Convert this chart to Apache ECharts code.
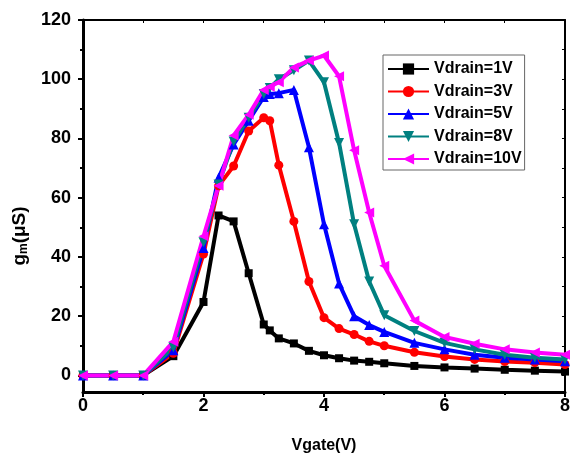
<!DOCTYPE html>
<html>
<head>
<meta charset="utf-8">
<script src="https://cdn.jsdelivr.net/npm/echarts@6/dist/echarts.min.js"></script>
<style>
html,body{margin:0;padding:0;background:#fff;}
#c{width:573px;height:459px;}
</style>
</head>
<body>
<div id="c"></div>
<script>
const vgate = [0, 0.5, 1, 1.5, 2, 2.25, 2.5, 2.75, 3, 3.1, 3.25, 3.5, 3.75, 4, 4.25, 4.5, 4.75, 5, 5.5, 6, 6.5, 7, 7.5, 8];
const gm1V  = [0, 0, 0, 6.5, 24.8, 54, 52, 34.5, 17.2, 15.2, 12.5, 10.8, 8.3, 6.8, 5.8, 5.0, 4.6, 4.1, 3.2, 2.7, 2.3, 1.9, 1.6, 1.3];
const gm3V  = [0, 0, 0, 7.5, 41, 64, 70.7, 82.5, 87, 86, 71, 52, 31.7, 19.5, 15.8, 13.8, 11.5, 10, 7.8, 6.4, 5.4, 4.7, 4.3, 3.7];
const gm5V  = [0, 0, 0, 8.5, 43, 66.7, 78, 86, 94, 95, 95.3, 96.4, 77, 51, 31, 20, 17, 14.7, 11, 8.8, 7, 6, 5.4, 4.8];
const gm8V  = [0, 0, 0, 9.5, 45, 64.5, 79, 87, 95, 97, 100, 103, 106.3, 99, 78.5, 51, 31.7, 20.3, 15, 11, 8.8, 7, 6, 5.4];
const gm10V = [0, 0, 0, 11.4, 47, 64, 81, 88, 96.4, 97.5, 99, 104, 106.3, 108, 101, 76, 55, 37, 18.5, 13, 10.7, 8.8, 7.7, 7];
const seriesNames = ['Vdrain=1V', 'Vdrain=3V', 'Vdrain=5V', 'Vdrain=8V', 'Vdrain=10V'];
const yTickLabels = [0, 20, 40, 60, 80, 100, 120];
const yMinorTicks = [10, 30, 50, 70, 90, 110];
const yRightTicks = [0, 10, 20, 30, 40, 50, 60, 70, 80, 90, 100, 110, 120];

const FONT = '"Liberation Sans", Arial, sans-serif';
const allVals = [gm1V, gm3V, gm5V, gm8V, gm10V];
const colors = ['#000000', '#FF0000', '#0000FF', '#008080', '#FF00FF'];
const symbols = ['rect', 'circle', 'triangle', 'triangle', 'triangle'];
const rotates = [0, 0, 0, 180, 90];
const sizes = [8, 9, 10, 10, 10];

const series = allVals.map((vals, i) => ({
  name: seriesNames[i],
  type: 'line',
  xAxisIndex: 0,
  yAxisIndex: 0,
  data: vgate.map((x, j) => [x, vals[j]]),
  symbol: symbols[i],
  symbolRotate: rotates[i],
  symbolSize: sizes[i],
  showAllSymbol: true,
  clip: false,
  lineStyle: { color: colors[i], width: 4 },
  itemStyle: { color: colors[i], borderWidth: 0 },
  emphasis: { disabled: true }
}));

const chart = echarts.init(document.getElementById('c'), null, { renderer: 'canvas' });
chart.setOption({
  animation: false,
  backgroundColor: '#ffffff',
  grid: { left: 83, right: 5, top: 20, bottom: 66, containLabel: false },
  legend: {
    data: seriesNames,
    orient: 'vertical',
    left: 383,
    top: 55,
    padding: [6, 3, 3, 4],
    itemWidth: 41,
    itemHeight: 14,
    itemGap: 6.5,
    borderColor: '#666666',
    borderWidth: 1,
    backgroundColor: '#ffffff',
    textStyle: { fontFamily: FONT, fontWeight: 'bold', fontSize: 16, color: '#000', lineHeight: 16 }
  },
  xAxis: [
    {
      type: 'value', min: 0, max: 8, interval: 2, position: 'bottom',
      name: 'Vgate(V)', nameLocation: 'middle', nameGap: 46,
      nameTextStyle: { fontFamily: FONT, fontWeight: 'bold', fontSize: 16, color: '#000' },
      axisLine: { onZero: false, lineStyle: { color: '#000', width: 3 } },
      axisTick: { show: true, inside: false, length: 5, lineStyle: { color: '#000', width: 2 } },
      minorTick: { show: true, splitNumber: 2, length: 3, lineStyle: { color: '#000', width: 2 } },
      axisLabel: { fontFamily: FONT, fontWeight: 'bold', fontSize: 18, color: '#000', margin: 5 },
      splitLine: { show: false }, minorSplitLine: { show: false }
    },
    {
      type: 'value', min: 0, max: 8, interval: 1, position: 'top',
      axisLine: { onZero: false, lineStyle: { color: '#000', width: 2 } },
      axisTick: { show: true, inside: true, length: 3, lineStyle: { color: '#000', width: 1 } },
      axisLabel: { show: false },
      splitLine: { show: false }
    }
  ],
  yAxis: [
    {
      type: 'value', min: -5.6, max: 120, position: 'left',
      name: 'g{sub|m}(μS)', nameLocation: 'middle', nameGap: 52, nameRotate: 90,
      nameTextStyle: {
        fontFamily: FONT, fontWeight: 'bold', fontSize: 19, color: '#000',
        padding: [0, 60, 0, 0],
        rich: { sub: { fontFamily: FONT, fontWeight: 'bold', fontSize: 12, color: '#000', verticalAlign: 'bottom', padding: [9, 0, 0, 0] } }
      },
      axisLine: { onZero: false, lineStyle: { color: '#000', width: 3 } },
      axisTick: { show: true, inside: false, length: 5, customValues: yTickLabels, lineStyle: { color: '#000', width: 2 } },
      axisLabel: { customValues: yTickLabels, fontFamily: FONT, fontWeight: 'bold', fontSize: 18, color: '#000', margin: 12 },
      splitLine: { show: false }
    },
    {
      type: 'value', min: -5.6, max: 120, position: 'left',
      axisLine: { show: false, onZero: false },
      axisTick: { show: true, inside: false, length: 3, customValues: yMinorTicks, lineStyle: { color: '#000', width: 2 } },
      axisLabel: { show: false },
      splitLine: { show: false }
    },
    {
      type: 'value', min: -5.6, max: 120, position: 'right',
      axisLine: { show: true, onZero: false, lineStyle: { color: '#000', width: 2 } },
      axisTick: { show: true, inside: true, length: 3, customValues: yRightTicks, lineStyle: { color: '#000', width: 1 } },
      axisLabel: { show: false },
      splitLine: { show: false }
    }
  ],
  series: series
});
</script>
</body>
</html>
